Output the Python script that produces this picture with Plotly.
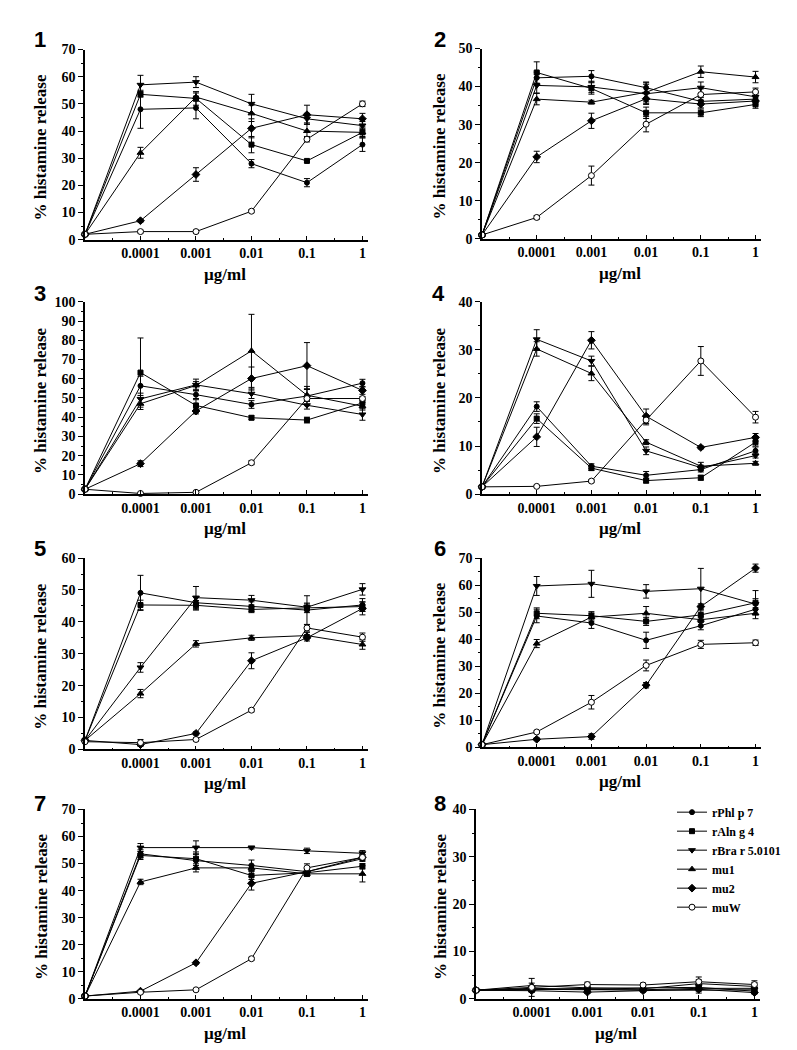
import plotly.graph_objects as go

# concentrations (µg/ml); first point is the no-allergen baseline drawn at the axis start
CONC = [0.00001, 0.0001, 0.001, 0.01, 0.1, 1]
TICK_VALS = [0.0001, 0.001, 0.01, 0.1, 1]
TICK_TEXT = ["0.0001", "0.001", "0.01", "0.1", "1"]

SERIES = ["rPhl p 7", "rAln g 4", "rBra r 5.0101", "mu1", "mu2", "muW"]

# values per panel, in SERIES order
P1 = [[2, 48, 48.5, 28, 21, 35],
      [2, 53.5, 52, 35, 29, 39.5],
      [2, 57, 58, 50, 44.5, 42],
      [2, 32, 52.5, 46.5, 40, 39.5],
      [2, 7, 24, 41, 46, 44.5],
      [2, 3, 3, 10.5, 37, 50]]
P1_ERR = [[0, 7, 4, 1.5, 1.5, 2.5],
          [0, 1, 2.5, 3, 0.5, 2],
          [0, 3.5, 2, 3.5, 2, 1.5],
          [0, 2, 1.5, 3, 3, 1.5],
          [0, 0.5, 2.5, 3.5, 3.5, 2],
          [0, 0.5, 0.5, 0.5, 1, 1]]

P2 = [[1, 42.3, 42.7, 39.7, 36.1, 36.7],
      [1, 43.7, 39.5, 33.1, 33.1, 35.3],
      [1, 40.3, 39.9, 38.1, 39.7, 37.3],
      [1, 36.7, 35.9, 38.5, 43.9, 42.5],
      [1, 21.5, 31.0, 36.8, 35.4, 36.2],
      [1, 5.6, 16.6, 30.1, 37.9, 38.6]]
P2_ERR = [[0, 1.5, 1.5, 1.5, 1, 1],
          [0, 2.8, 1.5, 1.5, 1, 1],
          [0, 2, 1.5, 2.5, 1.5, 1],
          [0, 1.5, 0.5, 2.5, 1.5, 1.5],
          [0, 1.5, 2, 1.5, 1, 1],
          [0, 0.5, 2.5, 2, 1.5, 1]]

P3 = [[2.5, 56.3, 51.7, 46.6, 51.0, 57.7],
      [2.5, 63.2, 46.1, 39.7, 38.5, 47.4],
      [2.5, 49.5, 56.8, 52.2, 46.2, 41.4],
      [2.5, 47, 56.5, 74.5, 51.4, 45.7],
      [2.5, 15.8, 43.2, 60.1, 66.8, 53.9],
      [2.5, 0.3, 0.9, 16.3, 49.7, 49.7]]
P3_ERR = [[0, 5, 2, 2, 5, 2],
          [0, 18, 3, 1, 1.5, 2],
          [0, 3, 3, 2.5, 2, 3],
          [0, 3, 2, 19, 3, 2],
          [0, 1.5, 1.5, 6, 12, 2],
          [0, 0.3, 0.5, 1, 1, 1]]

P4 = [[1.5, 18.2, 5.8, 3.9, 5.1, 9.0],
      [1.5, 15.7, 5.4, 2.8, 3.4, 10.8],
      [1.5, 32.2, 27.7, 9.0, 5.5, 8.0],
      [1.5, 30.2, 25.1, 10.8, 5.8, 6.4],
      [1.5, 11.9, 32.0, 16.2, 9.7, 11.8],
      [1.5, 1.6, 2.7, 15.4, 27.7, 16.0]]
P4_ERR = [[0, 1, 0.5, 0.8, 0.5, 0.8],
          [0, 1, 0.5, 0.5, 0.5, 0.8],
          [0, 2, 1, 0.8, 0.5, 0.5],
          [0, 1.5, 1.5, 0.5, 0.8, 0.4],
          [0, 2, 1.8, 1.5, 0.3, 0.8],
          [0, 0.2, 0.3, 1, 3, 1.2]]

P5 = [[2.8, 49.1, 46.0, 44.8, 43.7, 45.3],
      [2.8, 45.3, 45.2, 43.9, 44.4, 44.8],
      [2.8, 25.7, 47.6, 46.8, 44.6, 50.2],
      [2.8, 17.5, 33.1, 35.0, 35.7, 32.9],
      [2.8, 1.5, 5.0, 27.8, 35.0, 44.2],
      [2.4, 2.1, 3.1, 12.3, 38.1, 35.2]]
P5_ERR = [[0, 5.5, 2, 1.5, 4.5, 2],
          [0, 1.5, 1.5, 1, 1.5, 1.5],
          [0, 1.5, 3.5, 1.5, 1, 1.8],
          [0, 1.3, 1, 0.8, 1, 1.5],
          [0, 0.5, 0.5, 2.5, 1, 2],
          [0, 1, 0.5, 0.5, 1, 1.3]]

P6 = [[1, 48.6, 46.0, 39.6, 45.0, 51.1],
      [1, 49.6, 48.7, 46.6, 49.0, 53.5],
      [1, 59.7, 60.5, 57.7, 58.7, 53.0],
      [1, 38.4, 48.2, 49.6, 47.2, 49.6],
      [1, 3.0, 4.0, 23.0, 52.1, 66.3],
      [1, 5.7, 16.7, 30.3, 38.1, 38.7]]
P6_ERR = [[0, 2.5, 2, 3, 1.5, 2],
          [0, 2, 1.5, 1.5, 1.5, 4.5],
          [0, 3.5, 5, 2.5, 7.5, 2],
          [0, 1.5, 1.5, 2.5, 1, 2],
          [0, 0.5, 1, 1, 1, 1.5],
          [0, 0.5, 2.5, 2, 1.5, 1]]

P7 = [[1, 53.6, 51.1, 49.3, 47.0, 51.8],
      [1, 53.0, 51.8, 45.6, 46.6, 49.0],
      [1, 55.9, 55.9, 55.9, 54.7, 53.8],
      [1, 43.2, 48.4, 48.4, 46.2, 46.2],
      [1, 2.8, 13.3, 42.7, 47.0, 52.3],
      [1, 2.4, 3.3, 14.8, 48.4, 52.3]]
P7_ERR = [[0, 1.5, 2.5, 2, 1, 1],
          [0, 1.5, 2.5, 1.5, 1, 1],
          [0, 1.5, 2.5, 0.5, 1, 1],
          [0, 1, 1.5, 1, 1, 3],
          [0, 0.3, 0.5, 2.5, 1, 1],
          [0, 0.5, 0.3, 0.5, 1.5, 1]]

P8 = [[1.8, 2.0, 1.9, 1.9, 2.2, 2.2],
      [1.8, 1.9, 2.2, 2.3, 2.4, 1.6],
      [1.8, 2.2, 2.0, 1.8, 1.8, 1.9],
      [1.8, 2.8, 2.3, 2.1, 3.2, 2.6],
      [1.8, 1.7, 1.4, 1.7, 2.0, 1.3],
      [1.8, 2.4, 3.0, 2.9, 3.6, 3.0]]
P8_ERR = [[0, 0.5, 0.4, 0.3, 0.5, 0.5],
          [0, 0.4, 0.4, 0.4, 0.5, 0.4],
          [0, 0.5, 0.4, 0.3, 0.6, 0.4],
          [0, 0.5, 0.5, 0.4, 0.8, 0.8],
          [0, 0.3, 0.3, 0.3, 0.4, 0.3],
          [0, 1.9, 0.5, 0.4, 1.0, 0.8]]

PANEL_LABELS = ["1", "2", "3", "4", "5", "6", "7", "8"]
Y_MAX = [70, 50, 100, 40, 60, 70, 70, 40]
X_TITLE = "µg/ml"
Y_TITLE = "% histamine release"

PANELS = [P1, P2, P3, P4, P5, P6, P7, P8]
PANEL_ERRS = [P1_ERR, P2_ERR, P3_ERR, P4_ERR, P5_ERR, P6_ERR, P7_ERR, P8_ERR]

# ---------------- layout / style ----------------
W, H = 797, 1050
# pixel boxes of plot areas: (x0, x1, ytop, ybottom)
BOXES = [(77, 360, 35, 228), (474, 753, 34, 227),
         (77, 360, 291, 486), (474, 753, 291, 486),
         (77, 360, 551, 745), (474, 753, 551, 743),
         (77, 360, 806, 998), (468, 752, 806, 998)]
LABEL_POS = [(32, 25), (432, 25), (32, 283), (430, 283),
             (32, 541), (432, 541), (32, 800), (432, 800)]

SYMBOLS = ["circle", "square", "triangle-down", "triangle-up", "diamond", "circle"]
SIZES = [5, 5, 6, 6, 6, 6]
FILLS = ["black", "black", "black", "black", "black", "white"]

SERIF = "Liberation Serif"
tick_font = dict(family=SERIF, size=14, color="black", weight="bold")

fig = go.Figure()
layout = dict(width=W, height=H, margin=dict(l=0, r=0, t=0, b=0),
              paper_bgcolor="white", plot_bgcolor="white",
              annotations=[])

minor_x = [10 ** (k + 0.5) for k in range(-5, 0)]

for p in range(8):
    x0, x1, yt, yb = BOXES[p]
    ax = "" if p == 0 else str(p + 1)
    xd = [x0 / W, x1 / W]
    yd = [1 - yb / H, 1 - yt / H]
    layout["xaxis" + ax] = dict(
        domain=xd, anchor="y" + ax, type="log", range=[-5, 0.1],
        tickvals=TICK_VALS, ticktext=TICK_TEXT, ticks="inside", ticklen=4,
        tickwidth=1, tickcolor="black",
        minor=dict(tickvals=minor_x, ticks="inside", ticklen=2, tickcolor="black"),
        showline=True, linecolor="black", linewidth=1.5, showgrid=False,
        zeroline=False, tickfont=tick_font)
    layout["yaxis" + ax] = dict(
        domain=yd, anchor="x" + ax, range=[0, Y_MAX[p]], dtick=10, tick0=0,
        ticks="outside", ticklen=5, tickwidth=1, tickcolor="black",
        minor=dict(dtick=5, ticks="outside", ticklen=2, tickcolor="black"),
        showline=True, linecolor="black", linewidth=1.5, showgrid=False,
        zeroline=False, tickfont=tick_font)

    for s in range(6):
        fig.add_trace(go.Scatter(
            x=CONC, y=PANELS[p][s],
            error_y=dict(type="data", array=PANEL_ERRS[p][s], color="black",
                         thickness=1, width=3),
            mode="lines+markers", name=SERIES[s],
            line=dict(color="black", width=1),
            marker=dict(symbol=SYMBOLS[s], size=SIZES[s], color=FILLS[s],
                        line=dict(color="black", width=1)),
            cliponaxis=False, showlegend=(p == 7),
            xaxis="x" + ax, yaxis="y" + ax))

    lx, ly = LABEL_POS[p]
    layout["annotations"].append(dict(
        text=PANEL_LABELS[p], x=lx / W, y=1 - ly / H, xref="paper", yref="paper",
        showarrow=False, xanchor="center", yanchor="middle",
        font=dict(family="Liberation Sans", size=22, color="black", weight="bold")))
    ytx = (33 if x0 < 400 else 432)
    layout["annotations"].append(dict(
        text=Y_TITLE, x=ytx / W, y=1 - ((yt + yb) / 2 + 3) / H,
        xref="paper", yref="paper", showarrow=False, textangle=-90,
        xanchor="center", yanchor="middle",
        font=dict(family=SERIF, size=17, color="black", weight="bold")))
    layout["annotations"].append(dict(
        text=X_TITLE, x=((x0 + x1) / 2 - 2) / W, y=1 - (yb + 35) / H,
        xref="paper", yref="paper", showarrow=False,
        xanchor="center", yanchor="middle",
        font=dict(family=SERIF, size=17, color="black", weight="bold")))

layout["legend"] = dict(x=664 / W, y=1 - 794 / H, xanchor="left", yanchor="top",
                        bgcolor="rgba(0,0,0,0)", itemwidth=30,
                        font=dict(family=SERIF, size=12, color="black", weight="bold"))

fig.update_layout(**layout)
fig.write_html("out.html")
